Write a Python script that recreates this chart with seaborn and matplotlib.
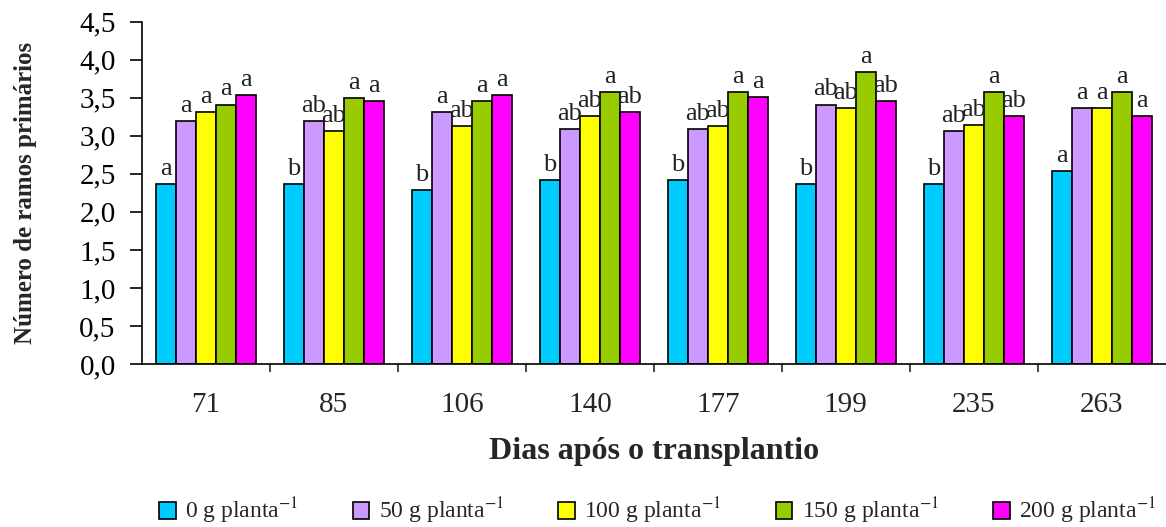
import matplotlib
matplotlib.use("Agg")
import matplotlib.pyplot as plt
import seaborn as sns
import pandas as pd
from matplotlib.ticker import FixedLocator, FuncFormatter

days = ["71", "85", "106", "140", "177", "199", "235", "263"]
doses = ["0", "50", "100", "150", "200"]

v0   = [2.37, 2.37, 2.29, 2.42, 2.42, 2.37, 2.37, 2.54]
v50  = [3.19, 3.19, 3.31, 3.09, 3.09, 3.41, 3.06, 3.36]
v100 = [3.31, 3.06, 3.13, 3.26, 3.13, 3.36, 3.14, 3.36]
v150 = [3.41, 3.50, 3.46, 3.58, 3.58, 3.84, 3.58, 3.58]
v200 = [3.53, 3.46, 3.53, 3.31, 3.51, 3.46, 3.26, 3.26]

l0   = ["a", "b", "b", "b", "b", "b", "b", "a"]
l50  = ["a", "ab", "a", "ab", "ab", "ab", "ab", "a"]
l100 = ["a", "ab", "ab", "ab", "ab", "ab", "ab", "a"]
l150 = ["a", "a", "a", "a", "a", "a", "a", "a"]
l200 = ["a", "a", "a", "ab", "a", "ab", "ab", "a"]

colors = ["#00CCFF", "#CC99FF", "#FFFF00", "#99CC00", "#FF00FF"]

series = [v0, v50, v100, v150, v200]
letters = [l0, l50, l100, l150, l200]

rows = []
for d, vals in zip(doses, series):
    for day, v in zip(days, vals):
        rows.append({"day": day, "dose": d, "value": v})
df = pd.DataFrame(rows)

sns.set_style("ticks")
plt.rcParams["font.family"] = ["Liberation Serif", "DejaVu Serif"]
plt.rcParams["mathtext.fontset"] = "stix"

fig = plt.figure(figsize=(11.66, 5.27), dpi=100)
ax = fig.add_axes([0.1218, 0.3093, 0.8780, 0.6495])

sns.barplot(data=df, x="day", y="value", hue="dose", order=days, hue_order=doses,
            palette=colors, width=0.78, errorbar=None, edgecolor="black",
            linewidth=1.2, saturation=1, ax=ax)

for cont, labs in zip(ax.containers, letters):
    for bar, lab in zip(cont, labs):
        ax.annotate(lab, (bar.get_x() + bar.get_width() / 2, bar.get_height()),
                    xytext=(0, 3), textcoords="offset points",
                    ha="center", va="bottom", fontsize=19, color="#222222")

ax.set_ylim(0, 4.5)
ax.set_xlim(-0.5, 7.5)
ax.set_yticks([i * 0.5 for i in range(10)])
ax.yaxis.set_major_formatter(FuncFormatter(lambda v, p: f"{v:.1f}".replace(".", ",")))
ax.tick_params(axis="y", labelsize=21, length=9, width=1.2, pad=10, colors="black")
ax.tick_params(axis="x", which="major", labelsize=21, length=0, pad=20)
ax.xaxis.set_minor_locator(FixedLocator([i + 0.5 for i in range(7)]))
ax.tick_params(axis="x", which="minor", length=6, width=1.2, direction="out")

ax.set_ylabel("Número de ramos primários", fontsize=18, fontweight="bold", labelpad=30)
ax.set_xlabel("Dias após o transplantio", fontsize=23, fontweight="bold", labelpad=14)

for s in ["top", "right"]:
    ax.spines[s].set_visible(False)
for s in ["left", "bottom"]:
    ax.spines[s].set_linewidth(1.2)
    ax.spines[s].set_color("black")

handles, _ = ax.get_legend_handles_labels()
labels_leg = [f"{d} g planta$^{{-1}}$" for d in doses]
ax.legend(handles, labels_leg, loc="center", bbox_to_anchor=(0.564, 0.03),
          bbox_transform=fig.transFigure, ncol=5, frameon=False, fontsize=17,
          handlelength=0.7, handleheight=0.7, handletextpad=0.4, columnspacing=2.3)

fig.savefig("out.png", dpi=100)
